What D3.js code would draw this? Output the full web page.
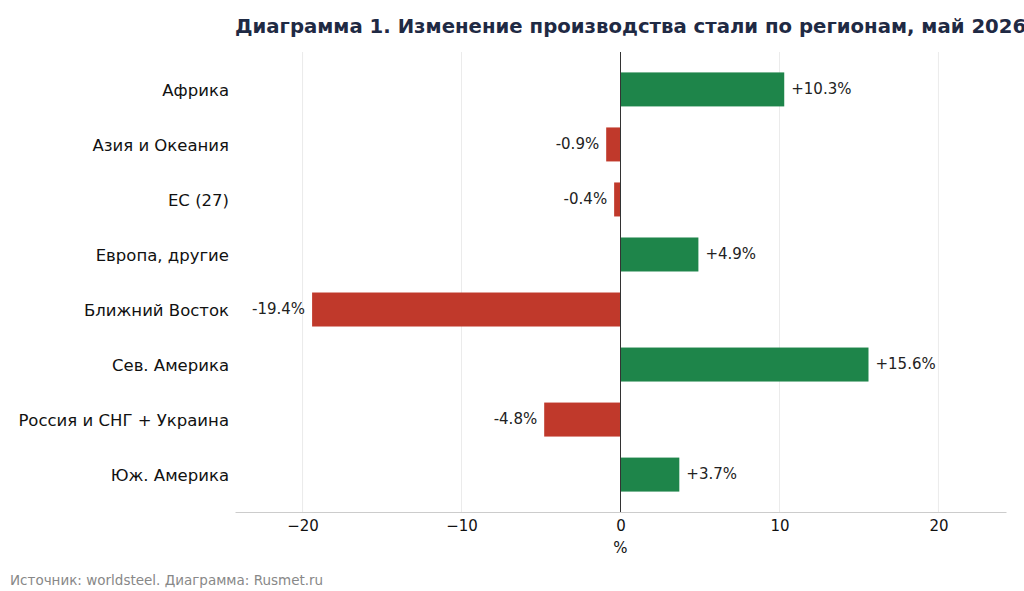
<!DOCTYPE html>
<html>
<head>
<meta charset="utf-8">
<script src="https://cdn.jsdelivr.net/npm/d3@7"></script>
<style>
  body { margin: 0; background: #fff; }
  svg { font-family: "DejaVu Sans", sans-serif; display: block; }
</style>
</head>
<body>
<svg id="chart" width="1024" height="591"></svg>
<script>
// Data
var regions = ["Африка", "Азия и Океания", "ЕС (27)", "Европа, другие",
               "Ближний Восток", "Сев. Америка", "Россия и СНГ + Украина", "Юж. Америка"];
var changes = [10.3, -0.9, -0.4, 4.9, -19.4, 15.6, -4.8, 3.7];
var xTicks = [-20, -10, 0, 10, 20];

var svg = d3.select("#chart"),
    plotLeft = 235, plotRight = 1006, plotTop = 52, plotBottom = 512;

var x = d3.scaleLinear().domain([-24.25, 24.25]).range([plotLeft, plotRight]);
var y = d3.scaleLinear().domain([-0.68, regions.length - 0.32]).range([plotTop, plotBottom]);
var barH = 34;

// grid
svg.selectAll(".grid").data(xTicks).enter().append("line")
  .attr("x1", function(d) { return x(d); }).attr("x2", function(d) { return x(d); })
  .attr("y1", plotTop).attr("y2", plotBottom)
  .attr("stroke", "#ebebeb").attr("stroke-width", 1);

// bars
svg.selectAll(".bar").data(changes).enter().append("rect")
  .attr("x", function(d) { return x(Math.min(0, d)); })
  .attr("y", function(d, i) { return y(i) - barH / 2; })
  .attr("width", function(d) { return Math.abs(x(d) - x(0)); })
  .attr("height", barH)
  .attr("fill", function(d) { return d >= 0 ? "#1e854a" : "#c0392b"; });

// zero line
svg.append("line")
  .attr("x1", x(0)).attr("x2", x(0)).attr("y1", plotTop).attr("y2", plotBottom)
  .attr("stroke", "#333").attr("stroke-width", 1);

// value labels
svg.selectAll(".val").data(changes).enter().append("text")
  .attr("x", function(d) { return d >= 0 ? x(d) + 7 : x(d) - 7; })
  .attr("y", function(d, i) { return y(i) - 1; })
  .attr("dy", "0.35em")
  .attr("text-anchor", function(d) { return d >= 0 ? "start" : "end"; })
  .attr("font-size", 15).attr("fill", "#222")
  .text(function(d) { return (d > 0 ? "+" : "") + d.toFixed(1) + "%"; });

// category labels
svg.selectAll(".cat").data(regions).enter().append("text")
  .attr("x", 229)
  .attr("y", function(d, i) { return y(i) + 1; })
  .attr("dy", "0.35em")
  .attr("text-anchor", "end")
  .attr("font-size", 16.5).attr("fill", "#111")
  .text(function(d) { return d; });

// x axis
var xAxis = d3.axisBottom(x).tickValues(xTicks).tickSize(0).tickPadding(8)
  .tickFormat(function(d) { return d < 0 ? "\u2212" + Math.abs(d) : d; });
var ax = svg.append("g").attr("transform", "translate(0," + plotBottom + ")").call(xAxis);
ax.select(".domain").attr("stroke", "#cccccc");
ax.selectAll("text").attr("font-size", 15).attr("fill", "#111")
  .attr("font-family", "DejaVu Sans, sans-serif");

svg.append("text")
  .attr("x", x(0)).attr("y", 553)
  .attr("text-anchor", "middle").attr("font-size", 15).attr("fill", "#111")
  .text("%");

// title
svg.append("text")
  .attr("x", 235).attr("y", 33)
  .attr("font-size", 19.7).attr("font-weight", "bold").attr("fill", "#1f2a44")
  .text("Диаграмма 1. Изменение производства стали по регионам, май 2026");

// source
svg.append("text")
  .attr("x", 10).attr("y", 585)
  .attr("font-size", 13.5).attr("fill", "#888")
  .text("Источник: worldsteel. Диаграмма: Rusmet.ru");
</script>
</body>
</html>
